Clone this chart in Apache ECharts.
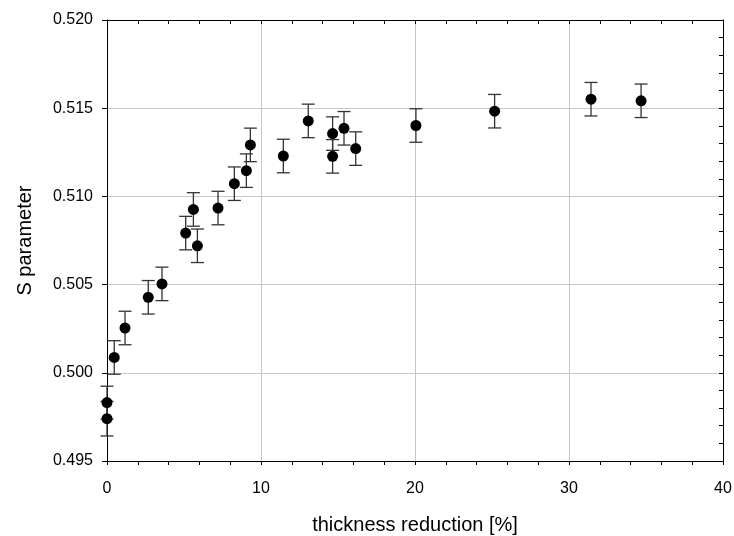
<!DOCTYPE html>
<html><head><meta charset="utf-8">
<script src="https://cdn.jsdelivr.net/npm/echarts@6/dist/echarts.min.js"></script>
<style>html,body{margin:0;padding:0;background:#fff}#c{width:734px;height:536px}</style>
</head><body><div id="c"></div>
<script>
var xValues = [0, 0, 0.47, 1.17, 2.68, 3.57, 5.11, 5.61, 5.87, 7.21, 8.27, 9.05, 9.31, 11.45, 13.07, 14.65, 14.65, 15.39, 16.15, 20.06, 25.17, 31.43, 34.68];
var yValues = [0.49831, 0.49740, 0.50087, 0.50254, 0.50428, 0.50504, 0.50792, 0.50926, 0.50720, 0.50934, 0.51072, 0.51146, 0.51292, 0.51229, 0.51428, 0.51356, 0.51227, 0.51386, 0.51271, 0.51402, 0.51483, 0.51551, 0.51542];
var yErrors = [0.00093, 0.00098, 0.00095, 0.00095, 0.00095, 0.00095, 0.00095, 0.00095, 0.00095, 0.00095, 0.00095, 0.00095, 0.00095, 0.00095, 0.00095, 0.00095, 0.00095, 0.00095, 0.00095, 0.00095, 0.00095, 0.00095, 0.00095];

var pts = xValues.map(function (x, i) { return [x, yValues[i]]; });
var errData = xValues.map(function (x, i) { return [x, yValues[i] - yErrors[i], yValues[i] + yErrors[i]]; });

var font = 'Liberation Sans, Arial, sans-serif';
var chart = echarts.init(document.getElementById('c'), null, {renderer: 'canvas'});
chart.setOption({
  animation: false,
  backgroundColor: '#fff',
  grid: {left: 107, right: 11, top: 20, bottom: 75, containLabel: false, outerBoundsMode: 'none'},
  xAxis: [{
    type: 'value', min: 0, max: 40, interval: 10, position: 'bottom',
    name: 'thickness reduction [%]', nameLocation: 'middle', nameGap: 54,
    nameTextStyle: {fontFamily: font, fontSize: 20, color: '#000'},
    axisLine: {show: true, onZero: false, lineStyle: {color: '#000', width: 1}},
    axisTick: {show: true, inside: false, length: 4, lineStyle: {color: '#000'}},
    minorTick: {show: true, splitNumber: 5, length: 4, lineStyle: {color: '#000'}},
    axisLabel: {fontFamily: font, fontSize: 16, color: '#000', margin: 20},
    splitLine: {show: true, lineStyle: {color: '#c8c8c8', width: 1}}
  }, {
    type: 'value', min: 0, max: 40, interval: 2, position: 'top',
    axisLine: {show: true, onZero: false, lineStyle: {color: '#000', width: 1}},
    axisTick: {show: true, inside: true, length: 4, lineStyle: {color: '#000'}},
    axisLabel: {show: false}, splitLine: {show: false}
  }],
  yAxis: [{
    type: 'value', min: 0.495, max: 0.520, interval: 0.005, position: 'left',
    name: 'S parameter', nameLocation: 'middle', nameGap: 72,
    nameTextStyle: {fontFamily: font, fontSize: 20, color: '#000'},
    axisLine: {show: true, onZero: false, lineStyle: {color: '#000', width: 1}},
    axisTick: {show: true, inside: false, length: 5, lineStyle: {color: '#000'}},
    axisLabel: {fontFamily: font, fontSize: 16, color: '#000', margin: 14,
      formatter: function (v) { return v.toFixed(3); }},
    splitLine: {show: true, lineStyle: {color: '#c8c8c8', width: 1}}
  }, {
    type: 'value', min: 0.495, max: 0.520, interval: 0.001, position: 'right',
    axisLine: {show: true, onZero: false, lineStyle: {color: '#000', width: 1}},
    axisTick: {show: true, inside: true, length: 4, lineStyle: {color: '#000'}},
    axisLabel: {show: false}, splitLine: {show: false}
  }],
  series: [{
    type: 'custom', xAxisIndex: 0, yAxisIndex: 0, data: errData, z: 2,
    renderItem: function (params, api) {
      var x = api.value(0);
      var lo = api.coord([x, api.value(1)]);
      var hi = api.coord([x, api.value(2)]);
      var hw = 6.5;
      var st = {stroke: '#333', lineWidth: 1.3};
      return {type: 'group', children: [
        {type: 'line', shape: {x1: lo[0], y1: lo[1], x2: hi[0], y2: hi[1]}, style: st},
        {type: 'line', shape: {x1: lo[0] - hw, y1: lo[1], x2: lo[0] + hw, y2: lo[1]}, style: st},
        {type: 'line', shape: {x1: hi[0] - hw, y1: hi[1], x2: hi[0] + hw, y2: hi[1]}, style: st}
      ]};
    }
  }, {
    type: 'scatter', xAxisIndex: 0, yAxisIndex: 0, data: pts, z: 3,
    symbol: 'circle', symbolSize: 11,
    itemStyle: {color: '#000', opacity: 1}
  }]
});
</script></body></html>
